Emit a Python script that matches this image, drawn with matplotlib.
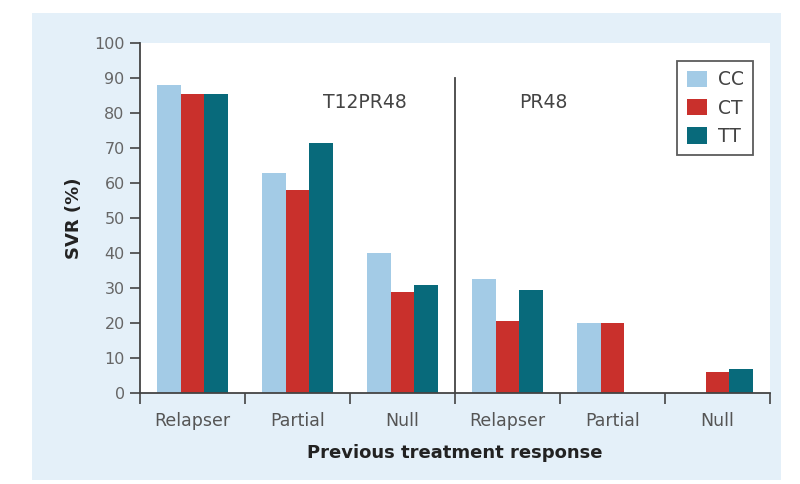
import numpy as np
import matplotlib
matplotlib.use("Agg")
import matplotlib.pyplot as plt
from matplotlib.patches import Rectangle

categories = ["Relapser", "Partial", "Null", "Relapser", "Partial", "Null"]
genotypes = ["CC", "CT", "TT"]
cc_values = [88, 63, 40, 32.5, 20, np.nan]
ct_values = [85.5, 58, 29, 20.5, 20, 6]
tt_values = [85.5, 71.5, 31, 29.5, np.nan, 6.8]
regimen_labels = ["T12PR48", "PR48"]
yticks = list(range(0, 101, 10))

colors = ["#a3cbe6", "#c9302c", "#086a7b"]
series = [cc_values, ct_values, tt_values]

plt.rcParams["font.family"] = ["DejaVu Sans"]

fig = plt.figure(figsize=(8, 4.84), dpi=100)
fig.patch.set_facecolor("white")
# light dotted background panel
bg = Rectangle((32 / 800, 4 / 484), (781 - 32) / 800, (480 - 13) / 484,
               transform=fig.transFigure, facecolor="#e4f0f9", edgecolor="none",
               zorder=-10)
fig.patches.append(bg)

ax = fig.add_axes([140 / 800, (484 - 393) / 484, 630 / 800, 350 / 484])
ax.set_zorder(1)
ax.set_facecolor("white")

x = np.arange(len(categories))
w = 0.225
for i, (vals, col, name) in enumerate(zip(series, colors, genotypes)):
    ax.bar(x + (i - 1) * w, vals, width=w, color=col, edgecolor="none",
           label=name, zorder=2)

ax.set_xlim(-0.5, len(categories) - 0.5)
ax.set_ylim(0, 100)

spine_col = "#444444"
for s in ["top", "right"]:
    ax.spines[s].set_visible(False)
for s in ["left", "bottom"]:
    ax.spines[s].set_color(spine_col)
    ax.spines[s].set_linewidth(1.3)

ax.set_yticks(yticks)
ax.set_yticklabels([str(v) for v in yticks], fontsize=11.5, color="#666666")
ax.tick_params(axis="y", direction="out", length=7, width=1.2, color=spine_col, pad=4)

ax.set_xticks(np.arange(-0.5, len(categories)), minor=False)
ax.set_xticklabels([])
ax.set_xticks(x, minor=True)
ax.set_xticklabels(categories, minor=True, fontsize=12.5, color="#555555")
ax.tick_params(axis="x", which="major", direction="out", length=8, width=1.2,
               color=spine_col)
ax.tick_params(axis="x", which="minor", length=0, pad=14)

ax.plot([2.5, 2.5], [0, 90], color=spine_col, lw=1.3, zorder=3, clip_on=False)

ax.text(1.64, 83, regimen_labels[0], ha="center", va="center", fontsize=13.5,
        color="#444444")
ax.text(3.34, 83, regimen_labels[1], ha="center", va="center", fontsize=13.5,
        color="#444444")

ax.set_ylabel("SVR (%)", fontsize=13, fontweight="bold", color="#222222",
              labelpad=8)
ax.set_xlabel("Previous treatment response", fontsize=13, fontweight="bold",
              color="#222222", labelpad=10)

leg = ax.legend(loc="upper right", bbox_to_anchor=(0.973, 0.949),
                borderaxespad=0, fancybox=False, frameon=True, fontsize=13.5,
                handlelength=1.1, handleheight=0.95, labelspacing=0.5,
                handletextpad=0.55, borderpad=0.5)
leg.get_frame().set_edgecolor("#333333")
leg.get_frame().set_linewidth(1.3)
for t in leg.get_texts():
    t.set_color("#444444")

fig.savefig("out.png", dpi=100, facecolor=fig.get_facecolor())
